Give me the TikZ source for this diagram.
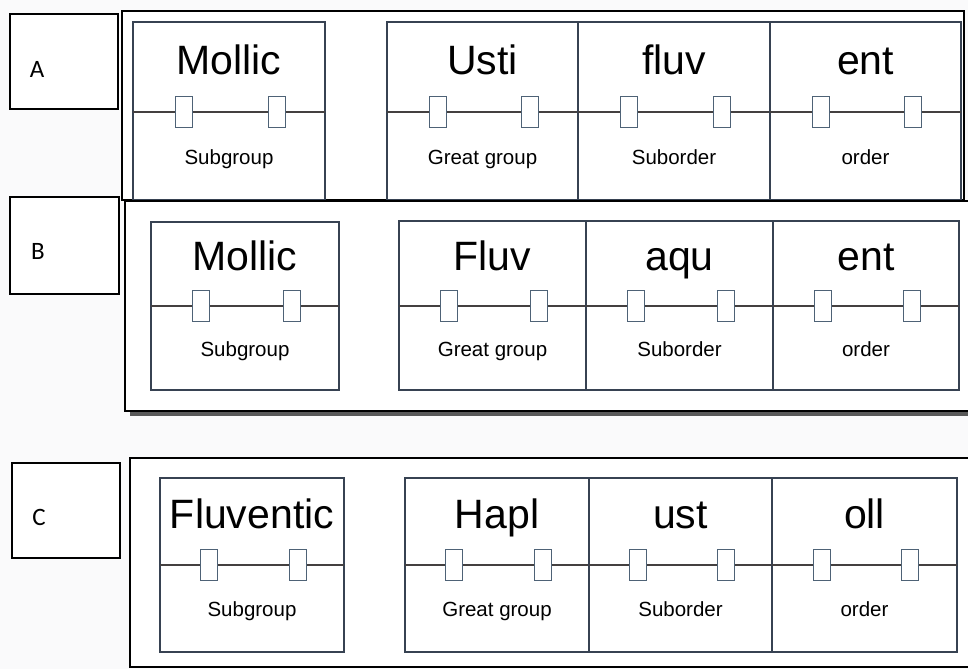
\documentclass[tikz,border=0pt]{standalone}
\usepackage{fontspec}
\setmainfont{Liberation Sans}
\newfontfamily\lblfont{Carlito}
\definecolor{cellc}{RGB}{55,66,82}
\definecolor{divc}{RGB}{68,64,64}
\definecolor{tabc}{RGB}{78,98,118}
\definecolor{paper}{RGB}{250,250,251}
\tikzset{
  framebox/.style={draw=black, line width=1.7pt, fill=white},
  cellbox/.style={draw=cellc, line width=1.2pt, fill=white},
  divline/.style={draw=divc, line width=2.4pt},
  tabbox/.style={draw=tabc, fill=white, line width=1.1pt, minimum width=17pt, minimum height=31pt, inner sep=0pt, shape=rectangle},
  bigword/.style={font=\fontsize{41}{41}\selectfont, anchor=base, inner sep=0pt},
  rankword/.style={font=\fontsize{20.5}{20.5}\selectfont, anchor=base, inner sep=0pt},
  tagbox/.style={draw=black, line width=1.5pt, fill=white},
  tagtext/.style={font=\fontsize{25}{25}\selectfont\lblfont, inner sep=0pt},
  shadowline/.style={draw=black!65, line width=4pt}
}
% #1 name, #2 x1, #3 x2, #4 ytop, #5 ydiv, #6 ybot, #7 word, #8 rank
\newcommand\soilcell[8]{%
  \path[cellbox] (#2,#4) rectangle (#3,#6);
  \draw[divline] (#2,#5) -- (#3,#5);
  \node[tabbox] (#1ta) at ({round(#2+0.268*(#3-#2))+0.2},#5) {};
  \node[tabbox] (#1tb) at ({round(#2+0.748*(#3-#2))+0.2},#5) {};
  \node[bigword] (#1w) at ({(#2+#3)/2},{#4+0.58*(#5-#4)}) {#7};
  \node[rankword] (#1r) at ({(#2+#3)/2},{(#5+#6)/2+8}) {#8};
}
\begin{document}
\begin{tikzpicture}[x=1pt,y=-1pt]
\useasboundingbox (0,0) rectangle (968,669);
\clip (0,0) rectangle (968,669);
\fill[paper] (0,0) rectangle (968,669);

% tag boxes
\path[tagbox] (10,14) rectangle (118,109);
\node[tagtext] (tagA) at (37,69) {A};
\path[tagbox] (10,197) rectangle (119,294);
\node[tagtext] (tagB) at (38,251) {B};
\path[tagbox] (12,463) rectangle (120,558);
\node[tagtext] (tagC) at (39,517) {C};

% panel A
\path[framebox] (122,11) rectangle (964,200);
\soilcell{a1}{133}{325}{22}{112}{200}{Mollic}{Subgroup}
\soilcell{a2}{387}{578}{22}{112}{200}{Usti}{Great group}
\soilcell{a3}{578}{770}{22}{112}{200}{fluv}{Suborder}
\soilcell{a4}{770}{961}{22}{112}{200}{ent}{order}

% panel B
\draw[shadowline] (130,413.5) -- (975,413.5);
\path[framebox] (125,201) rectangle (975,411);
\soilcell{b1}{151}{339}{222}{306}{390}{Mollic}{Subgroup}
\soilcell{b2}{399}{586}{221}{306}{390}{Fluv}{Great group}
\soilcell{b3}{586}{773}{221}{306}{390}{aqu}{Suborder}
\soilcell{b4}{773}{959}{221}{306}{390}{ent}{order}

% panel C
\path[framebox] (130,458) rectangle (975,667);
\soilcell{c1}{160}{344}{478}{565}{652}{Fluventic}{Subgroup}
\soilcell{c2}{405}{589}{478}{565}{652}{Hapl}{Great group}
\soilcell{c3}{589}{772}{478}{565}{652}{ust}{Suborder}
\soilcell{c4}{772}{957}{478}{565}{652}{oll}{order}
\end{tikzpicture}
\end{document}
